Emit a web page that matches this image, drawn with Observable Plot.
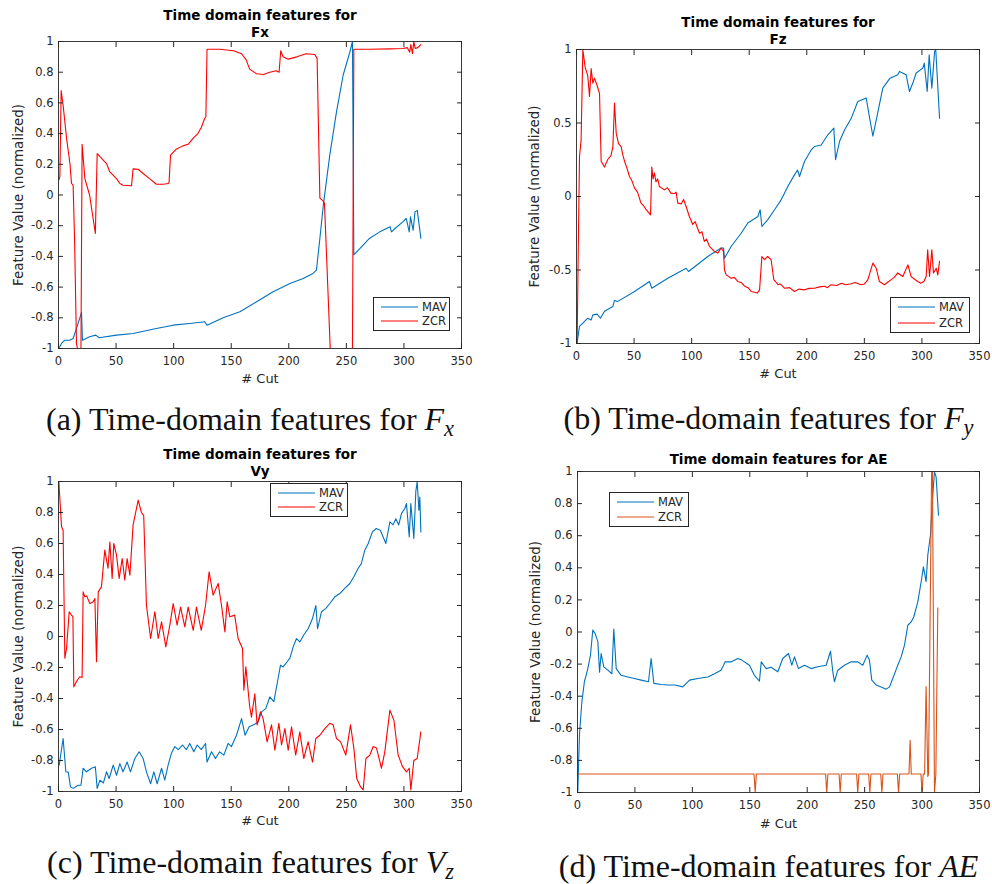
<!DOCTYPE html>
<html><head><meta charset="utf-8">
<script src="https://cdn.jsdelivr.net/npm/d3@7"></script>
<script src="https://cdn.jsdelivr.net/npm/@observablehq/plot@0.6"></script>
<style>
body{margin:0;background:#fff;}
#root{position:relative;width:992px;height:884px;overflow:hidden;background:#fff;}
.panel{position:absolute;}
.caption{position:absolute;font-family:"Liberation Serif","Times New Roman",serif;font-size:32px;line-height:28px;text-align:center;color:#111;white-space:nowrap;}
.caption sub{font-size:70%;vertical-align:-0.25em;line-height:0;}
.legend{position:absolute;}
</style></head><body><div id="root"></div>
<script>
// ---------- tick labels ----------
const xTicks = [0, 50, 100, 150, 200, 250, 300, 350];
const yTicksFine = [-1, -0.8, -0.6, -0.4, -0.2, 0, 0.2, 0.4, 0.6, 0.8, 1];
const yTicksCoarse = [-1, -0.5, 0, 0.5, 1];
const seriesNames = ["MAV", "ZCR"];

// ---------- (a) Fx ----------
const fxMAV = [[0,-1],[0.5,-0.996],[2.6,-0.967],[5.5,-0.946],[9.8,-0.946],[12.7,-0.935],[15.6,-0.87],[20,-0.765],[20.8,-0.946],[27,-0.924],[32.4,-0.913],[35.3,-0.93],[50.4,-0.913],[64.8,-0.902],[85,-0.87],[99.6,-0.848],[114,-0.837],[127,-0.826],[129,-0.848],[143,-0.80],[157.5,-0.761],[172,-0.696],[186.4,-0.63],[201,-0.577],[212.5,-0.544],[221,-0.511],[224,-0.49],[227,-0.283],[230,-0.066],[235.6,0.26],[241.4,0.54],[247.2,0.78],[253,0.93],[255.3,1.0],[256.5,-0.39],[261.7,-0.35],[270,-0.283],[279,-0.24],[288,-0.207],[289.2,-0.24],[292,-0.22],[299,-0.175],[302,-0.153],[304.6,-0.24],[305.7,-0.142],[308,-0.23],[309.6,-0.11],[311.6,-0.10],[314.7,-0.283]];
const fxZCR = [[0.5,0.10],[1.2,0.12],[2.3,0.68],[4,0.585],[7,0.37],[10,0.2],[11.3,0.075],[12.7,0.064],[14,-0.3],[15.6,-0.97],[16.5,-1],[19.5,-1],[20.5,0.33],[22.9,0.107],[27,0.0],[32,-0.25],[33.6,0.27],[36,0.25],[41.7,0.205],[44.6,0.15],[50.4,0.107],[53.3,0.075],[56,0.064],[63.4,0.06],[64.8,0.17],[69.2,0.168],[73.5,0.14],[79,0.107],[85,0.07],[91,0.07],[95,0.075],[96,0.08],[97.3,0.26],[102.5,0.30],[108,0.32],[112.6,0.33],[117,0.37],[121,0.40],[124,0.44],[127,0.50],[128,0.51],[129,0.95],[140,0.95],[152,0.94],[159,0.92],[163,0.88],[166,0.82],[172,0.79],[178,0.785],[183.5,0.80],[189,0.81],[191.6,0.80],[193,0.94],[195,0.90],[199.5,0.885],[207,0.90],[215,0.92],[222.6,0.915],[224.6,0.89],[227,-0.02],[230,-0.04],[231,-0.055],[236,-1],[255.3,-1],[256.5,0.95],[270,0.95],[288,0.952],[299,0.954],[303,0.96],[305,0.93],[306,0.98],[307.4,0.92],[308.6,1.0],[309.8,0.955],[312,0.96],[314.6,0.98]];

// ---------- (b) Fz ----------
const fzMAV = [[0.3,-1],[0.6,-0.993],[2.6,-0.884],[5.5,-0.862],[9.8,-0.828],[12.7,-0.84],[14.2,-0.805],[18,-0.80],[20.8,-0.828],[24.3,-0.78],[31.6,-0.748],[33,-0.707],[35.5,-0.715],[50.4,-0.646],[63.4,-0.578],[65.4,-0.624],[79.3,-0.556],[95.2,-0.488],[97.3,-0.51],[114,-0.408],[125.6,-0.35],[127.7,-0.35],[128.5,-0.42],[134.3,-0.34],[143,-0.25],[148.8,-0.18],[157.5,-0.136],[159.5,-0.09],[161,-0.204],[166,-0.159],[172,-0.09],[177.7,-0.023],[183.5,0.068],[189.3,0.147],[192,0.18],[193.7,0.136],[198,0.238],[203.8,0.317],[206.7,0.34],[212.5,0.35],[218.3,0.42],[223.5,0.465],[225,0.25],[228.4,0.374],[232.8,0.453],[238.5,0.53],[244.3,0.646],[248.6,0.66],[251.6,0.67],[253.6,0.578],[257.4,0.41],[260.3,0.52],[266,0.737],[272.3,0.805],[279,0.828],[280.5,0.85],[286.3,0.828],[289.2,0.714],[292,0.77],[295,0.84],[300.8,0.873],[302,0.907],[304.6,0.714],[306.3,0.964],[308.6,0.737],[311,0.986],[312,1.0],[315.3,0.533]];
const fzZCR = [[0.3,-1],[0.6,-0.975],[1.2,-0.567],[2.6,0.27],[4,0.385],[5.5,1.0],[7.5,0.88],[9.8,0.82],[11.3,0.68],[12.7,0.87],[14.2,0.77],[15.6,0.805],[17.7,0.76],[20,0.70],[21.4,0.24],[24.3,0.20],[27,0.25],[30,0.28],[31.6,0.34],[33,0.635],[34.5,0.43],[36.5,0.36],[38.8,0.34],[40,0.29],[41.7,0.24],[43.5,0.20],[46,0.136],[48,0.11],[50.4,0.057],[53,0.03],[56,-0.045],[58,-0.06],[60.5,-0.09],[64.3,-0.125],[65.4,0.20],[66.5,0.12],[67.7,0.16],[69,0.10],[70.5,0.12],[72,0.068],[76.4,0.045],[79,0.06],[82,0.023],[85,0.02],[86.5,0.03],[88,-0.045],[91,-0.05],[93,-0.02],[95.2,-0.068],[98,-0.136],[101,-0.19],[103,-0.17],[106.8,-0.25],[109,-0.24],[111,-0.306],[113,-0.29],[115.5,-0.34],[119.8,-0.374],[122.7,-0.385],[125.6,-0.35],[127.7,-0.374],[128.5,-0.5],[130,-0.533],[134.3,-0.556],[137,-0.55],[140,-0.578],[143,-0.585],[146,-0.61],[149,-0.62],[151.7,-0.646],[157,-0.657],[159,-0.635],[161,-0.408],[163.3,-0.43],[166,-0.408],[169,-0.43],[171.4,-0.567],[173,-0.58],[175,-0.60],[177,-0.595],[180.6,-0.624],[185,-0.62],[189.3,-0.646],[193,-0.63],[198,-0.635],[202,-0.625],[206.7,-0.624],[211,-0.615],[215.4,-0.61],[218,-0.62],[221,-0.60],[226,-0.605],[230,-0.59],[234,-0.6],[238.5,-0.594],[242,-0.585],[247,-0.60],[250,-0.595],[253,-0.567],[257.4,-0.453],[260.3,-0.488],[263,-0.578],[267.5,-0.60],[270,-0.585],[273,-0.567],[276,-0.55],[279,-0.52],[283.4,-0.544],[287.8,-0.465],[290.6,-0.544],[293,-0.56],[296.4,-0.578],[299,-0.59],[301.7,-0.578],[303.7,-0.544],[305,-0.363],[306.6,-0.544],[308.6,-0.363],[310,-0.52],[312.4,-0.488],[313.8,-0.533],[315.3,-0.44]];

// ---------- (c) Vy ----------
const vyMAV = [[0.6,-0.83],[4,-0.658],[6.4,-0.873],[8.5,-0.875],[10.4,-0.97],[12.7,-0.98],[17,-0.96],[19.5,-0.96],[21.4,-0.85],[24.3,-0.873],[28.7,-0.85],[32,-0.84],[33.6,-0.98],[36,-0.927],[39,-0.945],[41.7,-0.873],[44,-0.916],[47.5,-0.83],[50.4,-0.895],[53.3,-0.82],[56,-0.873],[59.6,-0.81],[62.5,-0.873],[66.3,-0.787],[70,-0.744],[73.5,-0.787],[76.4,-0.873],[80,-0.95],[82.8,-0.873],[85.7,-0.95],[89.5,-0.85],[92.3,-0.927],[95.2,-0.83],[98,-0.755],[101,-0.71],[104,-0.73],[107.7,-0.70],[111,-0.73],[114,-0.69],[117.5,-0.744],[120.5,-0.70],[124,-0.73],[127.7,-0.69],[129,-0.81],[132.9,-0.744],[136.3,-0.787],[140,-0.744],[143.6,-0.765],[147.3,-0.69],[150.2,-0.71],[154.6,-0.637],[159,-0.53],[162,-0.637],[165.6,-0.583],[169.6,-0.57],[173.4,-0.55],[176.3,-0.486],[180,-0.465],[183.5,-0.39],[187,-0.42],[190,-0.30],[192.8,-0.185],[195,-0.196],[198.6,-0.163],[201,-0.14],[203.8,-0.067],[206.7,-0.013],[209.6,-0.035],[213,0.01],[216.8,0.05],[220.6,0.116],[223.5,0.20],[225,0.05],[228.4,0.16],[232,0.18],[235.6,0.213],[240,0.256],[244.3,0.277],[248.6,0.31],[253,0.342],[256.5,0.385],[260.3,0.44],[263,0.47],[266,0.557],[269,0.60],[272.6,0.675],[276,0.697],[279.5,0.686],[284.3,0.60],[287.8,0.74],[290.6,0.72],[293,0.76],[295.5,0.72],[297.9,0.794],[300.8,0.826],[302.2,0.858],[304.6,0.643],[306,0.858],[308.6,0.632],[310.3,0.933],[311.5,1.0],[313,0.815],[313.8,0.90],[314.7,0.675]];
const vyZCR = [[0.3,1.0],[2.6,0.71],[4,0.686],[5.5,-0.14],[7,-0.077],[9.3,0.16],[11.3,0.137],[12.5,0.13],[13.3,-0.325],[15.6,-0.29],[18.5,-0.26],[20.5,-0.265],[21.4,0.288],[22.9,0.256],[24.5,0.262],[27.2,0.213],[30,0.223],[31.6,0.245],[33,-0.163],[34.5,0.288],[37.3,0.32],[40.2,0.557],[43,0.44],[44.6,0.61],[46.6,0.374],[48,0.60],[50.4,0.525],[52.7,0.374],[55.3,0.503],[57.6,0.363],[59.6,0.503],[62,0.396],[64.8,0.72],[69.2,0.88],[72,0.80],[74,0.78],[76.4,0.20],[80,-0.013],[83.7,0.16],[86.6,-0.013],[89.5,0.095],[93.2,-0.067],[96.7,0.073],[99.6,0.213],[103,0.073],[106,0.19],[109.7,0.062],[112.6,0.19],[117,0.04],[119.8,0.19],[124,0.04],[127.7,0.20],[130.8,0.417],[134.3,0.267],[138.7,0.342],[141.6,0.20],[144.5,0.03],[146.5,0.224],[148.8,0.127],[153,0.138],[156,-0.013],[159.8,-0.077],[161,-0.346],[162.7,-0.196],[166,-0.45],[167.6,-0.52],[170.5,-0.37],[172.5,-0.57],[175.4,-0.486],[177.7,-0.53],[181.2,-0.68],[185,-0.57],[187.9,-0.733],[191.4,-0.56],[193.7,-0.70],[196.6,-0.594],[199.5,-0.733],[202.4,-0.583],[206,-0.765],[209.6,-0.615],[213,-0.787],[216.8,-0.68],[220.6,-0.81],[223.5,-0.658],[227,-0.637],[231.3,-0.594],[235.6,-0.56],[238.5,-0.57],[241.4,-0.658],[245,-0.68],[249.5,-0.765],[253.6,-0.57],[256.5,-0.72],[259,-0.916],[262.3,-0.97],[264.6,-0.99],[267,-0.787],[270.4,-0.765],[273.3,-0.71],[276.2,-0.72],[280.5,-0.85],[283.4,-0.744],[287.8,-0.475],[291.3,-0.54],[295,-0.765],[298.8,-0.84],[302.2,-0.873],[304.6,-0.85],[306,-0.99],[308.6,-0.80],[311.5,-0.787],[314.7,-0.615]];

// ---------- (d) AE ----------
const aeMAV = [[0,-1],[0.3,-0.985],[1.7,-0.64],[3.8,-0.435],[6,-0.31],[9,-0.228],[11.3,-0.144],[13.3,0.012],[15.4,-0.01],[17.7,-0.06],[19.2,-0.25],[20.6,-0.134],[22.9,-0.217],[26.4,-0.238],[29.9,-0.26],[31.6,0.018],[33.7,-0.228],[38,-0.27],[43.8,-0.28],[49.6,-0.29],[55.4,-0.30],[61.8,-0.31],[64.1,-0.165],[66.5,-0.32],[72.8,-0.327],[78.6,-0.33],[85,-0.33],[91.7,-0.342],[97.5,-0.30],[104.8,-0.29],[113.5,-0.28],[119.3,-0.26],[125,-0.238],[128.6,-0.186],[134,-0.186],[139.6,-0.165],[143,-0.175],[149.7,-0.207],[154,-0.27],[158.4,-0.306],[160,-0.186],[164.3,-0.228],[168.5,-0.22],[174.4,-0.248],[178.7,-0.165],[183.7,-0.134],[186.6,-0.207],[188.9,-0.155],[192.4,-0.228],[197.6,-0.207],[203.4,-0.228],[209.2,-0.217],[216.5,-0.207],[220.3,-0.12],[222.3,-0.248],[223.7,-0.31],[226.6,-0.238],[232.4,-0.207],[238.2,-0.186],[244,-0.186],[248.4,-0.207],[252.2,-0.144],[254.2,-0.176],[256.2,-0.30],[260,-0.33],[264.4,-0.342],[268.8,-0.356],[271.7,-0.342],[274.5,-0.29],[278.3,-0.217],[281.8,-0.155],[284.7,-0.082],[287.6,0.042],[290.5,0.063],[292.8,0.095],[296.3,0.188],[299.2,0.313],[301.2,0.406],[303.5,0.313],[305,0.48],[307.3,0.603],[309.3,0.853],[310.8,0.998],[312.2,0.967],[314.3,0.728]];
const aeZCR = [[0.3,-0.885],[153.7,-0.885],[154.7,-1],[155.7,-0.885],[216,-0.885],[217,-1],[218,-0.885],[227.7,-0.885],[228.7,-1],[229.7,-0.885],[243,-0.885],[244,-1],[245,-0.885],[253.5,-0.885],[254.5,-1],[255.5,-0.885],[264,-0.885],[265,-1],[266,-0.885],[278.5,-0.885],[279.5,-1],[280.5,-0.885],[288.6,-0.885],[289.6,-0.675],[290.6,-0.885],[299,-0.885],[300,-1],[301,-0.885],[302.2,-0.885],[303.5,-0.34],[305,-0.9],[305.6,-0.885],[308.3,1],[309,1],[310.8,-1],[312,-0.885],[313.7,0.15]];

// ---------- captions & titles ----------
const titles = ["Time domain features for\nFx", "Time domain features for\nFz", "Time domain features for\nVy", "Time domain features for AE"];
const captions = [
  '(a) Time-domain features for <i>F</i><sub><i>x</i></sub>',
  '(b) Time-domain features for <i>F</i><sub><i>y</i></sub>',
  '(c) Time-domain features for <i>V</i><sub><i>z</i></sub>',
  '(d) Time-domain features for <i>AE</i>'
];

const MAV_COLOR = "#0072BD";
const ZCR_RED = "#FF0000";
const ZCR_ORANGE = "#D95319";
const AX = "#262626";

const panels = [
  {left:0, top:0, mL:58, mR:35, mT:41, mB:52, titleDy:-18.5, yTicks:yTicksFine, mav:fxMAV, zcr:fxZCR, zc:ZCR_RED, cutDy:30, ylDx:-40,
   legend:{left:373, top:297, w:77, h:34}, cap:{cx:250, cy:419}},
  {left:496, top:0, mL:80, mR:13, mT:49, mB:57, titleDy:-19.5, yTicks:yTicksCoarse, mav:fzMAV, zcr:fzZCR, zc:ZCR_RED, cutDy:30, ylDx:-42,
   legend:{left:890, top:297, w:80, h:36}, cap:{cx:768.5, cy:418}},
  {left:0, top:440, mL:58, mR:35, mT:41, mB:49, titleDy:-19.5, yTicks:yTicksFine, mav:vyMAV, zcr:vyZCR, zc:ZCR_RED, cutDy:29, ylDx:-40,
   legend:{left:270, top:483, w:78, h:34}, cap:{cx:250.5, cy:862}},
  {left:496, top:440, mL:81, mR:13, mT:31, mB:48, titleDy:-13, yTicks:yTicksFine, mav:aeMAV, zcr:aeZCR, zc:ZCR_ORANGE, cutDy:31, ylDx:-42,
   legend:{left:609, top:492, w:80, h:35}, cap:{cx:768.5, cy:866}}
];

const root = document.getElementById("root");
const fmt = d => String(d);
const blank = () => "";

panels.forEach((p, i) => {
  const plot = Plot.plot({
    width: 496, height: 400,
    marginLeft: p.mL, marginRight: p.mR, marginTop: p.mT, marginBottom: p.mB,
    x: {domain: [0, 350]},
    y: {domain: [-1, 1]},
    style: {fontFamily: "'DejaVu Sans', sans-serif", fontSize: "11.5px", color: AX, background: "transparent", overflow: "visible"},
    marks: [
      Plot.line(p.mav, {x: d => d[0], y: d => d[1], stroke: MAV_COLOR, strokeWidth: 1.1, clip: true}),
      Plot.line(p.zcr, {x: d => d[0], y: d => d[1], stroke: p.zc, strokeWidth: 1.1, clip: true}),
      Plot.frame({stroke: AX, strokeWidth: 0.9}),
      Plot.axisX(xTicks, {anchor: "bottom", tickSize: 0, tickPadding: 8, tickFormat: fmt, label: null, fill: AX, fontSize: 11.5}),
      Plot.axisX(xTicks, {anchor: "bottom", tickSize: -5, tickFormat: blank, label: null, stroke: AX}),
      Plot.axisX(xTicks, {anchor: "top", tickSize: -5, tickFormat: blank, label: null, stroke: AX}),
      Plot.axisY(p.yTicks, {anchor: "left", tickSize: 0, tickPadding: 5, tickFormat: fmt, label: null, fill: AX, fontSize: 11.5}),
      Plot.axisY(p.yTicks, {anchor: "left", tickSize: -5, tickFormat: blank, label: null, stroke: AX}),
      Plot.axisY(p.yTicks, {anchor: "right", tickSize: -5, tickFormat: blank, label: null, stroke: AX}),
      Plot.text([titles[i]], {text: d => d, frameAnchor: "top", dy: p.titleDy, lineAnchor: "middle", textAnchor: "middle", fontWeight: "bold", fontSize: 13.5, lineHeight: 1.26, fill: "#000"}),
      Plot.text(["# Cut"], {text: d => d, frameAnchor: "bottom", dy: p.cutDy, lineAnchor: "middle", textAnchor: "middle", fontSize: 13, fill: AX}),
      Plot.text(["Feature Value (normalized)"], {text: d => d, frameAnchor: "left", dx: p.ylDx, rotate: -90, lineAnchor: "middle", textAnchor: "middle", fontSize: 13.5, fill: AX})
    ]
  });
  plot.classList.add("panel");
  plot.style.left = p.left + "px";
  plot.style.top = p.top + "px";
  root.appendChild(plot);

  // legend box
  const lg = p.legend;
  const svg = d3.create("svg").attr("class", "legend").attr("width", lg.w).attr("height", lg.h)
    .style("left", lg.left + "px").style("top", lg.top + "px");
  svg.append("rect").attr("x", 0.5).attr("y", 0.5).attr("width", lg.w - 1).attr("height", lg.h - 1)
    .attr("fill", "#fff").attr("stroke", AX).attr("stroke-width", 1);
  const colors = [MAV_COLOR, p.zc];
  const rowY = [10, 10 + (lg.h - 20)];
  seriesNames.forEach((name, k) => {
    svg.append("line").attr("x1", 8).attr("x2", 45).attr("y1", rowY[k]).attr("y2", rowY[k])
      .attr("stroke", colors[k]).attr("stroke-width", 1.1);
    svg.append("text").attr("x", 49).attr("y", rowY[k]).attr("dy", "0.36em")
      .attr("font-family", "'DejaVu Sans', sans-serif").attr("font-size", 11.5).attr("fill", AX).text(name);
  });
  root.appendChild(svg.node());

  // caption
  const cap = document.createElement("div");
  cap.className = "caption";
  cap.innerHTML = captions[i];
  cap.style.left = (p.cap.cx - 220) + "px";
  cap.style.width = "440px";
  cap.style.top = (p.cap.cy - 14) + "px";
  root.appendChild(cap);
});
</script>
</body></html>
